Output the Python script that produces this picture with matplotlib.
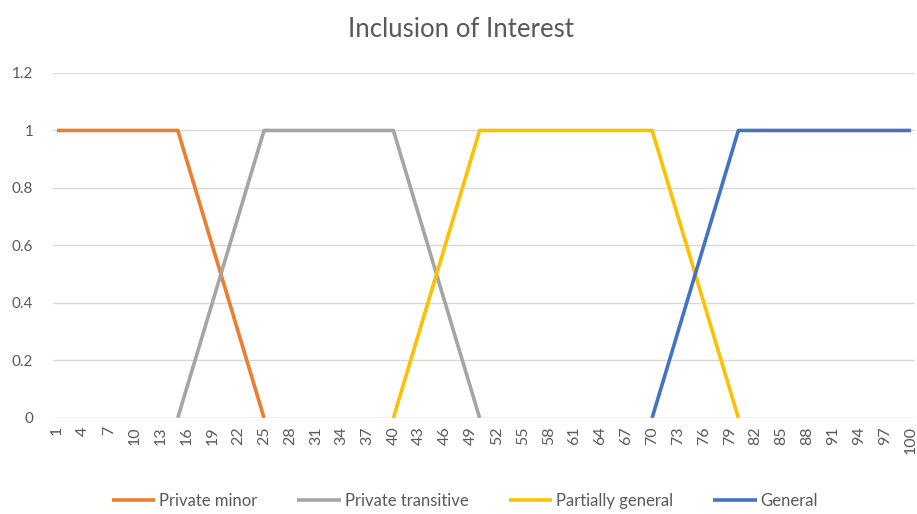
import matplotlib
matplotlib.use("Agg")
import matplotlib.pyplot as plt

plt.rcParams['font.family'] = ['Lato', 'DejaVu Sans']

# categories / tick labels
categories = list(range(1, 101))
tick_labels = [str(c) for c in range(1, 101, 3)]

# series breakpoints (category, value)
private_minor_x = [1, 15, 25]
private_minor_y = [1, 1, 0]
private_transitive_x = [15, 25, 40, 50]
private_transitive_y = [0, 1, 1, 0]
partially_general_x = [40, 50, 70, 80]
partially_general_y = [0, 1, 1, 0]
general_x = [70, 80, 100]
general_y = [0, 1, 1]

series = [
    ("Private minor", private_minor_x, private_minor_y, "#ED7D31"),
    ("Private transitive", private_transitive_x, private_transitive_y, "#A5A5A5"),
    ("Partially general", partially_general_x, partially_general_y, "#FFC000"),
    ("General", general_x, general_y, "#4472C4"),
]

fig = plt.figure(figsize=(9.17, 5.14), dpi=100)
ax = fig.add_axes([0.0575, 0.187, 0.9405, 0.671])

for name, xs, ys, col in series:
    ax.plot(xs, ys, color=col, lw=2.6, label=name, solid_capstyle='butt', zorder=3)

ax.set_xlim(0.5, 100.5)
ax.set_ylim(0, 1.2)
ax.set_yticks([0, 0.2, 0.4, 0.6, 0.8, 1.0, 1.2])
ax.set_yticklabels(["0", "0.2", "0.4", "0.6", "0.8", "1", "1.2"])
ax.set_xticks(list(range(1, 101, 3)))
ax.set_xticklabels(tick_labels, rotation=90)
ax.grid(axis='y', color='#D9D9D9', lw=1)
ax.set_axisbelow(True)
for s in ax.spines.values():
    s.set_visible(False)
ax.axhline(0, color='#D9D9D9', lw=1, zorder=1)
ax.tick_params(axis='both', length=0, colors='#595959', labelsize=11)
ax.tick_params(axis='x', labelsize=11.5, pad=6)
ax.tick_params(axis='y', pad=14)

fig.suptitle("Inclusion of Interest", x=0.503, y=0.967, fontsize=18.5, color='#595959')

leg = fig.legend(loc='center', bbox_to_anchor=(0.507, 0.026), ncol=4, frameon=False,
                 fontsize=12, handlelength=2.6, handletextpad=0.25, columnspacing=2.4)
for t in leg.get_texts():
    t.set_color('#595959')

fig.savefig("out.png", dpi=100)
